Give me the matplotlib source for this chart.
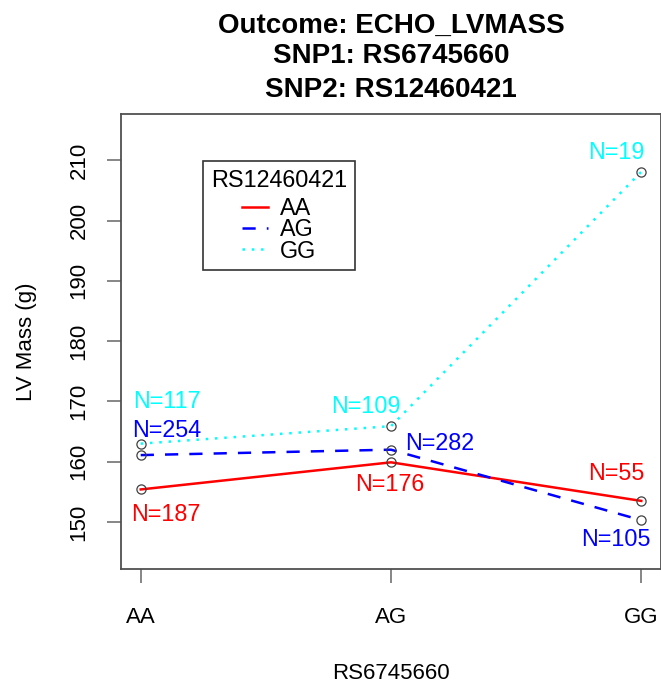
import matplotlib
matplotlib.use("Agg")
import matplotlib.pyplot as plt
from matplotlib.lines import Line2D

plt.rcParams['font.family'] = ['Liberation Sans', 'DejaVu Sans']
plt.rcParams['lines.scale_dashes'] = False

# genotype groups on the x axis (SNP1) and mean LV mass per SNP2 genotype
snp1_geno = ['AA', 'AG', 'GG']
snp2_geno = ['AA', 'AG', 'GG']
mass_AA = [155.4, 159.9, 153.5]
mass_AG = [161.1, 162.0, 150.3]
mass_GG = [163.0, 165.9, 208.1]
n_AA = [187, 176, 55]
n_AG = [254, 282, 105]
n_GG = [117, 109, 19]

yticks = [150, 160, 170, 180, 190, 200, 210]

# line styles for each SNP2 genotype
styles = {
    'AA': dict(color='#ff0000', dashes=()),
    'AG': dict(color='#0000ff', dashes=(9.5, 8.0)),
    'GG': dict(color='#00ffff', dashes=(1.8, 4.9)),
}
# where the N= labels sit relative to each point (pixels, up is positive)
label_off = {
    'AA': [(25, -25), (-1, -22.5), (-25, 27.5)],
    'AG': [(26, 24.2), (49, 6.5), (-25, -19.5)],
    'GG': [(26, 42.2), (-25, 19.5), (-25, 19.2)],
}

fig = plt.figure(figsize=(6.61, 6.86), dpi=100)
ax = fig.add_axes([120.7 / 661, 1 - 569.3 / 686, 540.6 / 661, 455.3 / 686])

x = [1, 2, 3]
for g, ys, ns in [('AA', mass_AA, n_AA), ('AG', mass_AG, n_AG), ('GG', mass_GG, n_GG)]:
    st = styles[g]
    ln, = ax.plot(x, ys, color=st['color'], lw=1.8, label=g, zorder=2)
    if st['dashes']:
        ln.set_dashes(st['dashes'])
    ax.plot(x, ys, 'o', mfc='none', mec='#404040', ms=6.6, mew=0.9, zorder=3)
    for xi, yi, ni, (dx, dy) in zip(x, ys, ns, label_off[g]):
        ax.annotate('N=%d' % ni, (xi, yi), xytext=(dx, dy), textcoords='offset pixels',
                    ha='center', va='center', color=st['color'], fontsize=16.8)

ax.set_xlim(0.92, 3.08)
ax.set_ylim(142.15, 217.7)
ax.set_xticks(x)
ax.set_xticklabels(snp1_geno)
ax.set_yticks(yticks)
ax.set_yticklabels([str(v) for v in yticks], rotation=90, va='center')

for sp in ax.spines.values():
    sp.set_color('#505050')
    sp.set_linewidth(1.3)
ax.tick_params(axis='both', length=10, width=1.1, color='#666666', labelsize=16)
ax.tick_params(axis='y', pad=12.5)
ax.tick_params(axis='x', pad=17)

ax.set_xlabel('RS6745660', fontsize=16)
ax.set_ylabel('LV Mass (g)', fontsize=16)
ax.xaxis.set_label_coords(0.5, -0.206)
ax.yaxis.set_label_coords(-0.154, 0.5)

handles = []
for g in snp2_geno:
    h = Line2D([], [], color=styles[g]['color'], lw=1.8)
    if styles[g]['dashes']:
        h.set_dashes(styles[g]['dashes'])
    handles.append(h)
leg = ax.legend(handles, snp2_geno, title='RS12460421', loc='upper left',
                bbox_to_anchor=(0.1528, 0.8968), borderaxespad=0, fontsize=16.8,
                title_fontsize=16.8, fancybox=False, framealpha=1, edgecolor='#333333',
                handlelength=1.1, handletextpad=0.5, labelspacing=-0.08,
                borderpad=0.33)
leg.get_frame().set_linewidth(1.2)
# extra gap between the legend title and its entries
leg._legend_box.sep = 4

cx = (120.7 + 661.3) / 2 / 661
for yy, txt in [(33.3, 'Outcome: ECHO_LVMASS'), (63.3, 'SNP1: RS6745660'),
                (97, 'SNP2: RS12460421')]:
    fig.text(cx, 1 - yy / 686, txt, ha='center', va='baseline',
             fontsize=20, fontweight='bold')

fig.savefig('out.png', dpi=100)
